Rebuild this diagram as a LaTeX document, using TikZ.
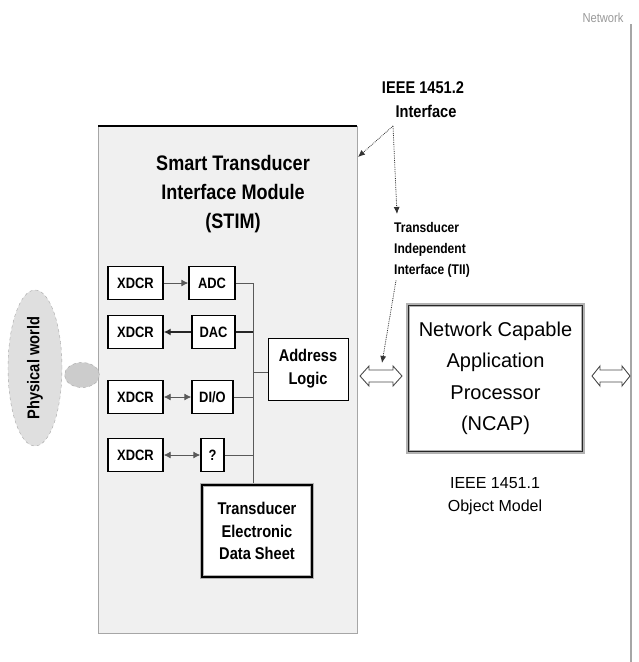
\documentclass[tikz,border=0pt]{standalone}
\usepackage{fontspec}
\setmainfont{Liberation Sans}
\newfontfamily\narrowf[FakeStretch=0.86]{Liberation Sans}
\newfontfamily\plainf{Liberation Sans}
\usetikzlibrary{arrows.meta,shapes.geometric}
\begin{document}
\begin{tikzpicture}[x=1pt,y=-1pt,
  sbox/.style={draw=black,line width=1.4pt,fill=white,inner sep=0pt,font=\narrowf\bfseries\fontsize{15}{16}\selectfont},
  thickbox/.style={draw=gray!60,line width=4pt,fill=white,inner sep=0pt,align=center},
  conn/.style={draw=gray!70!black,line width=0.9pt},
  tip/.style={-{Latex[length=7pt,width=7pt]}},
  btip/.style={{Latex[length=7pt,width=7pt]}-{Latex[length=7pt,width=7pt]}},
  dotarrow/.style={draw=black!80,line width=0.8pt,densely dotted,-{Latex[length=7pt,width=6pt]}},
  hollow/.style={draw=black!70,line width=0.9pt,fill=white},
  lbl/.style={inner sep=0pt,align=center}]
\useasboundingbox (0,0) rectangle (638,662);

% network boundary
\draw[gray!70,line width=2.5pt] (631,24) coordinate (nt) -- (631,662) coordinate (nb);
\node[lbl,text=gray!80,font=\narrowf\fontsize{13}{14}\selectfont] (net) at (603,18) {Network};

% STIM
\draw[draw=gray!70,fill=gray!12,line width=1pt] (98,126) rectangle (357,633);
\draw[black,line width=1.6pt] (98,126) -- (357,126);
\node[lbl,font=\narrowf\bfseries\fontsize{21}{29}\selectfont] (stim) at (233,194) {Smart Transducer\\Interface Module\\(STIM)};

% physical world
\node[ellipse,draw=gray!70,dashed,fill=gray!25,minimum width=54pt,minimum height=156pt,inner sep=0pt] (pw) at (35,368) {};
\node[lbl,rotate=90,font=\narrowf\bfseries\fontsize{17}{18}\selectfont] (pwt) at (35,368) {Physical world};
\node[ellipse,draw=gray!70,dashed,fill=gray!40,minimum width=35pt,minimum height=25pt,inner sep=0pt] (pc) at (82,375) {};

% XDCR boxes
\node[sbox,minimum width=55pt,minimum height=33pt] (x1) at (135.5,283) {XDCR};
\node[sbox,minimum width=55pt,minimum height=33pt] (x2) at (135.5,332) {XDCR};
\node[sbox,minimum width=55pt,minimum height=33pt] (x3) at (135.5,397) {XDCR};
\node[sbox,minimum width=55pt,minimum height=33pt] (x4) at (135.5,455) {XDCR};
\node[sbox,minimum width=46pt,minimum height=33pt] (adc) at (212,283) {ADC};
\node[sbox,minimum width=43pt,minimum height=33pt] (dac) at (213.5,332) {DAC};
\node[sbox,minimum width=41pt,minimum height=33pt] (dio) at (212.5,397) {DI/O};
\node[sbox,minimum width=23pt,minimum height=33pt] (q) at (212.5,455) {?};
\node[sbox,line width=1pt,minimum width=80pt,minimum height=62pt,align=center,font=\narrowf\bfseries\fontsize{17}{23}\selectfont] (al) at (308,369) {Address\\Logic};

\draw[conn,tip] (x1) -- (adc);
\draw[conn,line width=1.8pt,black!85,tip] (dac) -- (x2);
\draw[conn,btip] (x3) -- (dio);
\draw[conn,btip] (x4) -- (q);

% TEDS
\node[thickbox,minimum width=110pt,minimum height=92pt,font=\narrowf\bfseries\fontsize{17}{22.5}\selectfont] (teds) at (257,531) {Transducer\\Electronic\\Data Sheet};
\draw[black,line width=1.2pt] ([shift={(2,2)}]teds.north west) rectangle ([shift={(-2,-2)}]teds.south east);

% bus
\coordinate (bt) at (253,283);
\coordinate (bb) at (253,485);
\draw[conn] (bt) -- (teds.north -| bb);
\draw[conn] (adc.east) -- (adc.east -| bt);
\draw[conn,line width=2pt,black!85] (dac.east) -- (dac.east -| bt);
\draw[conn] (dio.east) -- (dio.east -| bt);
\draw[conn] (q.east) -- (q.east -| bt);
\draw[conn] (al.west |- 0,372) -- (bt |- 0,372);

% NCAP
\node[thickbox,minimum width=175pt,minimum height=147pt,font=\plainf\fontsize{20}{31.5}\selectfont] (ncap) at (495.5,378.5) {Network Capable\\Application\\Processor\\(NCAP)};
\draw[black!85,line width=1.4pt] ([shift={(2.5,2.5)}]ncap.north west) rectangle ([shift={(-2.5,-2.5)}]ncap.south east);
\node[lbl,font=\plainf\fontsize{16}{23}\selectfont] (om) at (495,496) {IEEE 1451.1\\Object Model};

% hollow double arrows
\draw[hollow] (360,376) -- (369,366) -- (369,370) -- (393,370) -- (393,366) -- (402,376) -- (393,386) -- (393,382) -- (369,382) -- (369,386) -- cycle;
\draw[hollow] (592,376) -- (600,366) -- (600,370) -- (622,370) -- (622,366) -- (630,376) -- (622,386) -- (622,382) -- (600,382) -- (600,386) -- cycle;

% IEEE 1451.2 labels
\node[lbl,font=\narrowf\bfseries\fontsize{17}{24}\selectfont] (i12) at (423,100) {IEEE 1451.2\\\hspace*{6pt}Interface};
\coordinate (split) at (393,126);
\draw[dotarrow] (split) -- (358,157);
\draw[dotarrow] (split) -- (397,214);
\node[lbl,align=left,anchor=north west,font=\narrowf\bfseries\fontsize{14}{21}\selectfont] (tii) at (394,222) {Transducer\\Independent\\Interface (TII)};
\coordinate (ts) at ([shift={(2,3)}]tii.south west);
\draw[dotarrow] (ts) -- (382,363);
\end{tikzpicture}
\end{document}
